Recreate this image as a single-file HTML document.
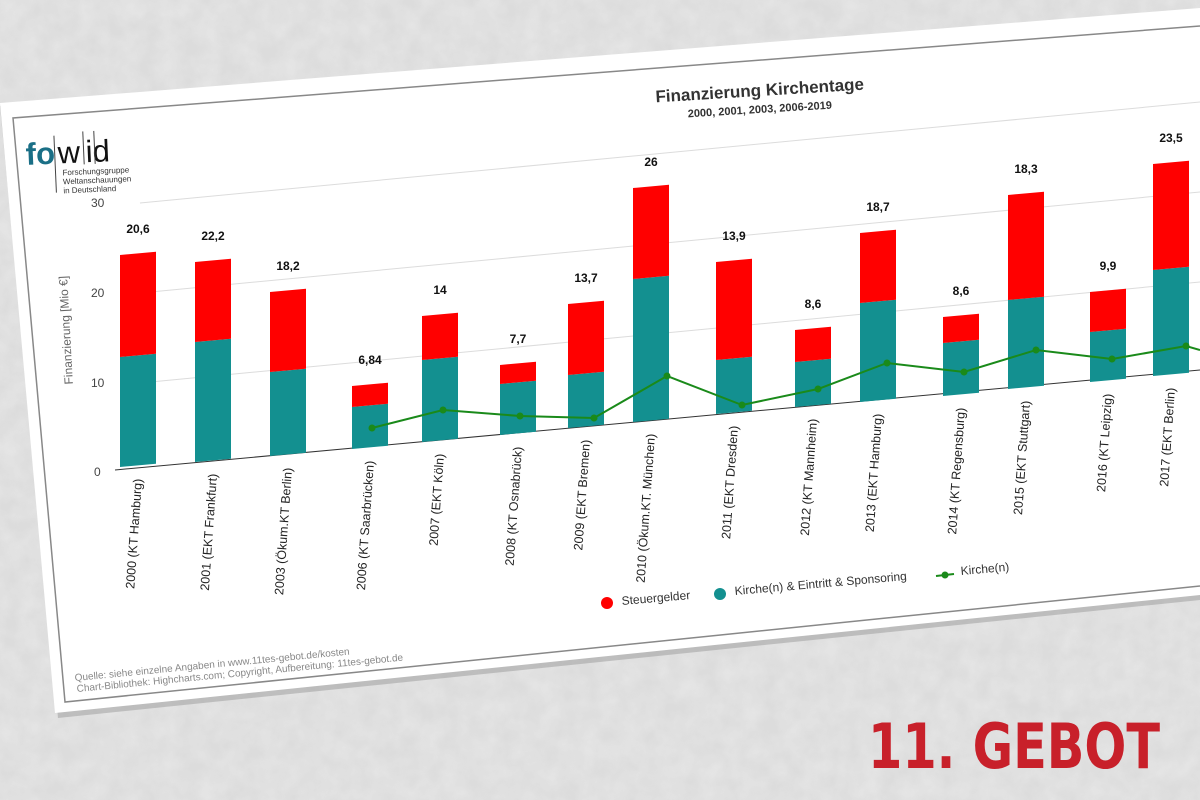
<!DOCTYPE html>
<html><head><meta charset="utf-8"><style>
html,body{margin:0;padding:0;background:#d6d6d6;}
svg{display:block;font-family:"Liberation Sans",sans-serif;}
</style></head><body>
<svg width="1200" height="800" viewBox="0 0 1200 800" xmlns="http://www.w3.org/2000/svg">
<defs>
<filter id="n"><feTurbulence type="fractalNoise" baseFrequency="0.05" numOctaves="3" seed="4"/><feColorMatrix values="0 0 0 0 0.84 0 0 0 0 0.84 0 0 0 0 0.84 0 0 0 -1.4 1.1"/></filter>
</defs>
<rect width="1200" height="800" fill="#dcdcdc"/>
<rect width="1200" height="800" filter="url(#n)" opacity="0.6"/>
<polygon points="0,106 1200,12 1200,600 58,718" fill="#9a9a9a" opacity="0.5"/>
<polygon points="0,103 1200,8 1200,595 55,713" fill="#fff"/>
<polyline points="1200,26 13,118 65,702 1200,586" fill="none" stroke="#888" stroke-width="1.5"/>
<!-- logo -->
<g transform="rotate(-2.5 70 160)">
<text x="26" y="163" font-size="31" fill="#1a6f86" font-weight="bold">fo</text>
<text x="58" y="163" font-size="31" fill="#111">w</text>
<text x="86" y="163" font-size="31" fill="#111">id</text>
<line x1="55" y1="135" x2="55" y2="192" stroke="#444"/>
<line x1="84" y1="132" x2="84" y2="165" stroke="#444"/>
<line x1="95" y1="132" x2="95" y2="165" stroke="#444"/>
<text x="62" y="175" font-size="8" fill="#333">Forschungsgruppe</text>
<text x="62" y="184" font-size="8" fill="#333">Weltanschauungen</text>
<text x="62" y="193" font-size="8" fill="#333">in Deutschland</text>
</g>
<!-- title -->
<text transform="translate(760,96) rotate(-3.5)" text-anchor="middle" font-size="17" font-weight="bold" fill="#333">Finanzierung Kirchentage</text>
<text transform="translate(760,113) rotate(-3.5)" text-anchor="middle" font-size="11" font-weight="bold" fill="#333">2000, 2001, 2003, 2006-2019</text>
<!-- grid -->
<g stroke="#dcdcdc" stroke-width="1">
<line x1="140" y1="203" x2="1200" y2="102"/>
<line x1="140" y1="293" x2="1200" y2="192"/>
<line x1="140" y1="383" x2="1200" y2="282"/>
</g>
<line x1="115" y1="470" x2="1200" y2="370" stroke="#333" stroke-width="1"/>
<g font-size="12" fill="#444">
<text x="91" y="207">30</text><text x="91" y="297">20</text><text x="91" y="387">10</text><text x="94" y="476">0</text>
</g>
<text transform="translate(70,330) rotate(-93)" text-anchor="middle" font-size="12" fill="#666">Finanzierung [Mio €]</text>
<!-- bars -->
<g id="bars"></g>
<polyline points="372,428 443,410 520,416 594,418 667,376 742,405 818,389 887,363 964,372 1036,350 1112,359 1186,346 1200,350" fill="none" stroke="#1a8a1a" stroke-width="2"/>
<g fill="#1a8a1a">
<circle cx="372" cy="428" r="3.5"/><circle cx="443" cy="410" r="3.5"/><circle cx="520" cy="416" r="3.5"/><circle cx="594" cy="418" r="3.5"/><circle cx="667" cy="376" r="3.5"/><circle cx="742" cy="405" r="3.5"/><circle cx="818" cy="389" r="3.5"/><circle cx="887" cy="363" r="3.5"/><circle cx="964" cy="372" r="3.5"/><circle cx="1036" cy="350" r="3.5"/><circle cx="1112" cy="359" r="3.5"/><circle cx="1186" cy="346" r="3.5"/>
</g>
<!-- legend -->
<circle cx="607" cy="603" r="6" fill="#f00"/>
<text transform="translate(622,605) rotate(-5)" font-size="12" fill="#333">Steuergelder</text>
<circle cx="720" cy="594" r="6" fill="#139090"/>
<text transform="translate(735,595) rotate(-5)" font-size="12" fill="#333">Kirche(n) &amp; Eintritt &amp; Sponsoring</text>
<line x1="936" y1="576" x2="954" y2="574" stroke="#1a8a1a" stroke-width="2"/><circle cx="945" cy="575" r="3.5" fill="#1a8a1a"/>
<text transform="translate(961,575) rotate(-5)" font-size="12" fill="#333">Kirche(n)</text>
<!-- footer -->
<text transform="translate(75,681) rotate(-5.5)" font-size="10" fill="#888">Quelle: siehe einzelne Angaben in www.11tes-gebot.de/kosten</text>
<text transform="translate(77,692) rotate(-5.5)" font-size="10" fill="#888">Chart-Bibliothek: Highcharts.com; Copyright, Aufbereitung: 11tes-gebot.de</text>
<text x="868" y="768" font-size="62" font-weight="bold" fill="#c8202a" font-family="'DejaVu Sans Condensed','Liberation Sans Narrow',sans-serif" textLength="292" lengthAdjust="spacingAndGlyphs">11. GEBOT</text>
<g id="xl" font-size="12.5" fill="#222"></g>
<g id="vl" font-size="12" font-weight="bold" fill="#111"></g>
</svg>
<script>
var d=[[120,255,357,467,"2000 (KT Hamburg)","20,6"],[195,262,342,462,"2001 (EKT Frankfurt)","22,2"],[270,292,372,456,"2003 (Ökum.KT Berlin)","18,2"],[352,386,407,449,"2006 (KT Saarbrücken)","6,84"],[422,316,360,442,"2007 (EKT Köln)","14"],[500,365,384,435,"2008 (KT Osnabrück)","7,7"],[568,304,375,428,"2009 (EKT Bremen)","13,7"],[633,188,279,422,"2010 (Ökum.KT. München)","26"],[716,262,360,414,"2011 (EKT Dresden)","13,9"],[795,330,362,407,"2012 (KT Mannheim)","8,6"],[860,233,303,402,"2013 (EKT Hamburg)","18,7"],[943,317,343,396,"2014 (KT Regensburg)","8,6"],[1008,195,300,389,"2015 (EKT Stuttgart)","18,3"],[1090,292,332,382,"2016 (KT Leipzig)","9,9"],[1153,164,270,376,"2017 (EKT Berlin)","23,5"]];
var ns="http://www.w3.org/2000/svg",b=document.getElementById("bars"),xl=document.getElementById("xl"),vl=document.getElementById("vl");
function poly(p,f){var e=document.createElementNS(ns,"polygon");e.setAttribute("points",p);e.setAttribute("fill",f);b.appendChild(e);}
var w=36,s=3.3;
d.forEach(function(r){var x=r[0],a=r[1],t=r[2],bt=r[3];
poly(x+","+t+" "+(x+w)+","+(t-s)+" "+(x+w)+","+(bt-s)+" "+x+","+bt,"#139090");
poly(x+","+a+" "+(x+w)+","+(a-s)+" "+(x+w)+","+(t-s)+" "+x+","+t,"#f00");
var e=document.createElementNS(ns,"text");var cx=x+w/2+4;
e.setAttribute("transform","translate("+cx+","+(bt+12)+") rotate(-86)");e.setAttribute("text-anchor","end");e.textContent=r[4];xl.appendChild(e);
var v=document.createElementNS(ns,"text");v.setAttribute("x",x+w/2);v.setAttribute("y",a-22);v.setAttribute("text-anchor","middle");v.textContent=r[5];vl.appendChild(v);
});
</script>
</body></html>
